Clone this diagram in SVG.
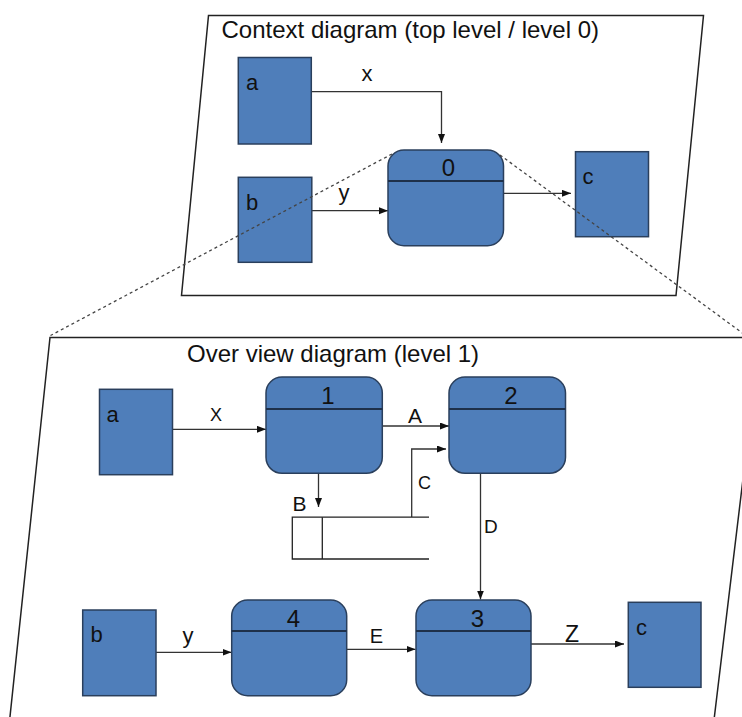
<svg xmlns="http://www.w3.org/2000/svg" width="742" height="717" viewBox="0 0 742 717">
<defs>
<marker id="arr" markerUnits="userSpaceOnUse" markerWidth="10" markerHeight="8" refX="9" refY="3.5" orient="auto">
<path d="M0,0 L9,3.5 L0,7 z" fill="#111"/>
</marker>
<style>
text{font-family:"Liberation Sans",Arial,sans-serif;fill:#111}
.frame{fill:none;stroke:#222;stroke-width:1.5}
.ext{fill:#4F7EBA;stroke:#2A3F5C;stroke-width:1.5}
.proc{fill:#4F7EBA;stroke:#2A3F5C;stroke-width:1.5}
.div{stroke:#1E304A;stroke-width:2}
.con{fill:none;stroke:#333;stroke-width:1.3}
.arr{marker-end:url(#arr)}
.dash{fill:none;stroke:#444;stroke-width:1.3;stroke-dasharray:3 3}
.store{fill:none;stroke:#222;stroke-width:1.3}
</style>
</defs>
<rect width="742" height="717" fill="#fff"/>

<g id="context-frame">
<polygon class="frame" points="208.5,15.5 703.5,15.5 676,295.5 181.5,295.5"/>
<text x="221.5" y="37.5" font-size="24">Context diagram (top level / level 0)</text>
</g>
<g id="overview-frame">
<polygon class="frame" points="50,337.5 760,337.5 711,745 7,745"/>
<text x="187" y="362" font-size="24">Over view diagram (level 1)</text>
</g>

<g id="connectors">
<path class="con arr" d="M312,91.7 H441.5 V143"/>
<path class="con arr" d="M312,210.7 H388"/>
<path class="con arr" d="M503.5,193.3 H571"/>
<path class="con arr" d="M172.7,429.3 H266"/>
<path class="con arr" d="M382,426 H449"/>
<path class="con arr" d="M318.5,473.3 V507"/>
<path class="con arr" d="M411.7,517 V449 H446"/>
<path class="con arr" d="M480.5,473.3 V599.5"/>
<path class="con arr" d="M156,652.3 H231.5"/>
<path class="con arr" d="M347,649.3 H415.5"/>
<path class="con arr" d="M530.7,644 H624"/>
<text x="367" y="80.5" font-size="22" text-anchor="middle">x</text>
<text x="344" y="200" font-size="22" text-anchor="middle">y</text>
<text x="216" y="421" font-size="18" text-anchor="middle">X</text>
<text x="415" y="422.5" font-size="21" text-anchor="middle">A</text>
<text x="292.5" y="510.7" font-size="21">B</text>
<text x="418" y="489" font-size="18">C</text>
<text x="484" y="532.7" font-size="19">D</text>
<text x="188" y="642.5" font-size="22" text-anchor="middle">y</text>
<text x="376.5" y="642.7" font-size="20" text-anchor="middle">E</text>
<text x="572" y="642.3" font-size="23" text-anchor="middle">Z</text>
</g>

<g id="ctx-a">
<rect class="ext" x="238.3" y="57.5" width="73" height="86.5"/>
<text x="246" y="90" font-size="22">a</text>
</g>
<g id="ctx-b">
<rect class="ext" x="238.3" y="177.3" width="73.5" height="85"/>
<text x="246" y="209.5" font-size="22">b</text>
</g>
<g id="ctx-0">
<rect class="proc" x="388" y="150" width="115.5" height="95.7" rx="16"/>
<line class="div" x1="388" y1="181" x2="503.5" y2="181"/>
<text x="448.5" y="176" font-size="24" text-anchor="middle">0</text>
</g>
<g id="ctx-c">
<rect class="ext" x="575.5" y="151.7" width="73" height="85"/>
<text x="582.5" y="184" font-size="22">c</text>
</g>

<g id="ov-a">
<rect class="ext" x="99.5" y="389.3" width="73" height="85.4"/>
<text x="106.5" y="421.7" font-size="22">a</text>
</g>
<g id="ov-1">
<rect class="proc" x="266" y="377" width="116.3" height="96.3" rx="16"/>
<line class="div" x1="266" y1="409" x2="382.3" y2="409"/>
<text x="328" y="404" font-size="24" text-anchor="middle">1</text>
</g>
<g id="ov-2">
<rect class="proc" x="449" y="377" width="116.5" height="96.3" rx="16"/>
<line class="div" x1="449" y1="409" x2="565.5" y2="409"/>
<text x="511" y="404" font-size="24" text-anchor="middle">2</text>
</g>
<g id="ov-store">
<path class="store" d="M429,517.2 H292.3 V559 H429"/>
<line class="store" x1="322.3" y1="517.2" x2="322.3" y2="559"/>
</g>
<g id="ov-b">
<rect class="ext" x="82.7" y="610" width="73.3" height="85.7"/>
<text x="90.5" y="642.3" font-size="22">b</text>
</g>
<g id="ov-4">
<rect class="proc" x="231.7" y="600" width="115" height="95.7" rx="16"/>
<line class="div" x1="231.7" y1="631" x2="346.7" y2="631"/>
<text x="293.5" y="627" font-size="24" text-anchor="middle">4</text>
</g>
<g id="ov-3">
<rect class="proc" x="416" y="600" width="115" height="95.7" rx="16"/>
<line class="div" x1="416" y1="631" x2="531" y2="631"/>
<text x="477.5" y="627" font-size="24" text-anchor="middle">3</text>
</g>
<g id="ov-c">
<rect class="ext" x="628.3" y="602.3" width="72.7" height="85"/>
<text x="636" y="635" font-size="22">c</text>
</g>

<g id="zoom-lines">
<line class="dash" x1="392" y1="154" x2="50.5" y2="335.5"/>
<line class="dash" x1="500" y1="155" x2="760" y2="346"/>
</g>
</svg>
